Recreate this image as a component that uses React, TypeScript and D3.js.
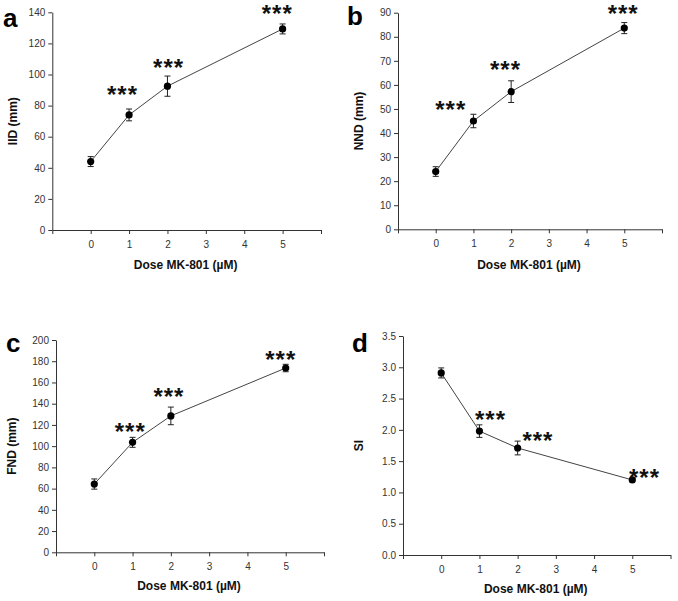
import React, { useEffect, useRef } from "react";
import * as d3 from "d3";

// ---- data ----
const doses = [0, 1, 2, 5];
const xTickValues = [-1, 0, 1, 2, 3, 4, 5, 6];
const xTickLabels = ["", "0", "1", "2", "3", "4", "5", ""];

const iidMean = [44, 74, 92.5, 129.3];
const iidErr = [3.2, 3.8, 6.5, 3.2];
const nndMean = [24, 45, 57.2, 83.6];
const nndErr = [2, 2.8, 4.5, 2.3];
const fndMean = [64.3, 103.6, 128.5, 173.6];
const fndErr = [4.8, 4.7, 8.3, 3.5];
const siMean = [2.91, 1.98, 1.71, 1.2];
const siErr = [0.08, 0.1, 0.11, 0.02];

// significance marker positions (dose units, value units)
const iidStars = [[0.83, 90.7], [2.03, 108], [4.86, 142.6]];
const nndStars = [[0.4, 52.1], [1.85, 68.7], [4.97, 91.8]];
const fndStars = [[0.94, 119], [1.95, 152.2], [4.87, 186.8]];
const siStars = [[1.29, 2.26], [2.53, 1.92], [5.32, 1.32]];

const panelLetters = ["a", "b", "c", "d"];
const yTitles = ["IID (mm)", "NND (mm)", "FND (mm)", "SI"];
const xTitle = "Dose MK-801 (\u00b5M)";
const yMaxes = [140, 90, 200, 3.5];
const ySteps = [20, 10, 20, 0.5];
const yFormats = ["d", "d", "d", ".1f"];

const means = [iidMean, nndMean, fndMean, siMean];
const errs = [iidErr, nndErr, fndErr, siErr];
const stars = [iidStars, nndStars, fndStars, siStars];

// ---- layout ----
const layout = [
  { x0: 52.3, x1: 321, yb: 230, yt: 12.3, letter: [3, 27], yt_x: 13, xt_y: 269 },
  { x0: 398, x1: 662, yb: 229.3, yt: 12.7, letter: [347, 25], yt_x: 359, xt_y: 269 },
  { x0: 56, x1: 324, yb: 552.3, yt: 340, letter: [6, 352], yt_x: 12, xt_y: 590 },
  { x0: 403, x1: 670.5, yb: 555, yt: 336, letter: [352, 352], yt_x: 359, xt_y: 593 },
];

const FONT = "'Liberation Sans', Arial, sans-serif";

export default function App() {
  const ref = useRef<SVGSVGElement | null>(null);

  useEffect(() => {
    const svg = d3.select(ref.current);
    svg.selectAll("*").remove();

    layout.forEach((L, i) => {
      const g = svg.append("g");
      const x = d3.scaleLinear().domain([-1, 6]).range([L.x0, L.x1]);
      const y = d3.scaleLinear().domain([0, yMaxes[i]]).range([L.yb, L.yt]);
      const yTicks = d3.range(0, yMaxes[i] + 1e-9, ySteps[i]);

      const yAxis = g
        .append("g")
        .attr("transform", `translate(${L.x0},0)`)
        .call(
          d3.axisLeft(y).tickValues(yTicks).tickSize(4).tickSizeOuter(0).tickPadding(3).tickFormat(d3.format(yFormats[i]) as any)
        );
      const xAxis = g
        .append("g")
        .attr("transform", `translate(0,${L.yb})`)
        .call(
          d3.axisBottom(x).tickValues(xTickValues).tickSize(4).tickSizeOuter(0).tickPadding(7)
            .tickFormat((_d, k) => xTickLabels[k])
        );
      [yAxis, xAxis].forEach((a) => {
        a.selectAll("path,line").attr("stroke", "#333").attr("stroke-width", 1);
        a.selectAll("text").attr("fill", "#333").attr("font-size", 10).attr("font-family", FONT);
      });

      const line = d3
        .line<number>()
        .x((_d, k) => x(doses[k]))
        .y((d) => y(d));
      g.append("path")
        .attr("d", line(means[i]) as string)
        .attr("fill", "none")
        .attr("stroke", "#444")
        .attr("stroke-width", 1);

      means[i].forEach((m, k) => {
        const cx = x(doses[k]);
        const e = errs[i][k];
        const gy = g.append("g").attr("stroke", "#222").attr("stroke-width", 1);
        gy.append("line").attr("x1", cx).attr("x2", cx).attr("y1", y(m - e)).attr("y2", y(m + e));
        gy.append("line").attr("x1", cx - 3).attr("x2", cx + 3).attr("y1", y(m - e)).attr("y2", y(m - e));
        gy.append("line").attr("x1", cx - 3).attr("x2", cx + 3).attr("y1", y(m + e)).attr("y2", y(m + e));
        g.append("circle").attr("cx", cx).attr("cy", y(m)).attr("r", 3.6).attr("fill", "#000");
      });

      stars[i].forEach(([sx, sy]) => {
        g.append("text")
          .attr("x", x(sx))
          .attr("y", y(sy) + 14)
          .attr("text-anchor", "middle")
          .attr("font-family", FONT)
          .attr("font-weight", "bold")
          .attr("font-size", 24)
          .attr("letter-spacing", 1)
          .attr("fill", "#111")
          .text("***");
      });

      g.append("text")
        .attr("x", L.letter[0])
        .attr("y", L.letter[1])
        .attr("font-family", FONT)
        .attr("font-weight", "bold")
        .attr("font-size", 26)
        .attr("fill", "#000")
        .text(panelLetters[i]);

      g.append("text")
        .attr("transform", `translate(${L.yt_x + 4},${(L.yb + L.yt) / 2}) rotate(-90)`)
        .attr("text-anchor", "middle")
        .attr("font-family", FONT)
        .attr("font-weight", "bold")
        .attr("font-size", 12)
        .attr("fill", "#111")
        .text(yTitles[i]);

      g.append("text")
        .attr("x", x(2.5) - 1)
        .attr("y", L.xt_y)
        .attr("text-anchor", "middle")
        .attr("font-family", FONT)
        .attr("font-weight", "bold")
        .attr("font-size", 12)
        .attr("fill", "#111")
        .text(xTitle);
    });
  }, []);

  return (
    <svg
      ref={ref}
      width={678}
      height={601}
      style={{ position: "absolute", left: 0, top: 0, background: "#fff" }}
    />
  );
}
